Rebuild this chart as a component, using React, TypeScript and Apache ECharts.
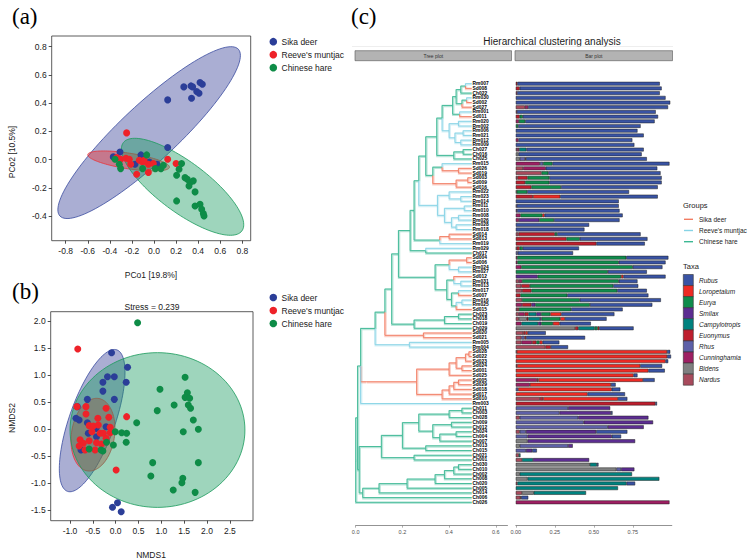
import React, { useEffect, useRef } from "react";
import * as echarts from "echarts";

const FONT = "Liberation Sans, Arial, Helvetica, sans-serif";
const SERIF = "Liberation Serif, Times New Roman, serif";

const GROUP_NAMES = ["Sika deer", "Reeve's muntjac", "Chinese hare"];
const POINT_COLORS = ["#2B3E98", "#EE2229", "#0E8C47"];
const ELLIPSE_FILLS = ["rgba(52,62,150,0.42)", "rgba(235,45,45,0.42)", "rgba(25,155,95,0.42)"];
const ELLIPSE_STROKES = ["#3A4BA0", "#E8333A", "#1B9A5C"];
const TREE_COLORS = ["#F27C62", "#86D3E5", "#3CB894"];

// ---------- (a) PCoA ----------
const PCOA_SIKA = [[0.27,0.515],[0.335,0.522],[0.35,0.515],[0.417,0.546],[0.438,0.534],[0.34,0.435],[0.387,0.482],[0.408,0.47],[0.124,0.423],[0.124,0.085],[-0.308,0.054],[-0.118,0.033],[-0.172,-0.033],[-0.042,-0.017],[0.027,-0.033],[-0.369,0.019]];
const PCOA_MUNTJAC = [[-0.248,0.189],[-0.338,0.014],[-0.302,0.002],[-0.254,0.009],[-0.224,0.002],[-0.211,-0.033],[-0.157,-0.104],[-0.133,-0.005],[-0.103,-0.017],[-0.051,-0.033],[-0.051,-0.092],[0.124,0.002],[0.2,-0.028],[-0.09,-0.005],[-0.006,-0.028]];
const PCOA_HARE = [[-0.353,0.002],[-0.314,-0.033],[-0.302,-0.064],[-0.066,0.033],[-0.103,-0.064],[0.012,-0.064],[0.063,-0.064],[0.085,-0.04],[0.25,-0.028],[0.227,-0.069],[0.205,-0.111],[0.281,-0.128],[0.302,-0.139],[0.326,-0.163],[0.356,-0.151],[0.317,-0.187],[0.372,-0.229],[0.205,-0.293],[0.372,-0.329],[0.417,-0.317],[0.432,-0.352],[0.447,-0.383],[0.453,-0.4]];
// ellipse: centre x, centre y, conjugate semi-axis u (x,y), v (x,y)
const PCOA_ELLIPSES = [[-0.044,0.191,0.808,0.591,0.175,-0.147],[-0.23,-0.01,0.37,-0.045,0.01,0.055],[0.259,-0.193,0.537,-0.313,0.136,0.142]];
const PCOA_X_TICKS = [-0.8,-0.6,-0.4,-0.2,0,0.2,0.4,0.6,0.8];
const PCOA_Y_TICKS = [-0.4,-0.2,0,0.2,0.4,0.6,0.8];

// ---------- (b) NMDS ----------
const NMDS_SIKA = [[-0.09,1.41],[0.26,1.14],[-0.18,0.967],[-0.03,0.967],[-0.28,0.863],[0.23,0.863],[-0.28,0.70],[-0.03,0.548],[-0.62,0.548],[-0.84,0.413],[-0.87,0.197],[-0.8,0.166],[-0.62,0.117],[-0.21,0.043],[-0.43,0.012],[-0.6,-0.08],[-0.42,-0.142],[-0.76,-0.388],[0.04,-1.362],[-0.07,-1.448],[0.12,-1.528]];
const NMDS_MUNTJAC = [[-0.83,1.479],[-0.85,0.413],[-0.65,0.413],[-0.21,0.382],[-0.65,0.277],[0.24,0.228],[-0.39,0.197],[-0.15,0.216],[-0.58,0.062],[-0.49,0.055],[-0.38,0.074],[-0.12,0.031],[-0.52,-0.05],[-0.34,-0.08],[-0.27,-0.08],[-0.12,-0.068],[-0.78,-0.2],[-0.71,-0.265],[-0.58,-0.216],[-0.42,-0.253],[-0.31,-0.277],[-0.21,-0.173],[-0.8,-0.314],[-0.67,-0.388],[-0.45,-0.388],[0.01,-0.758]];
const NMDS_HARE = [[0.48,1.965],[0.97,0.733],[1.52,0.955],[1.57,0.67],[1.52,0.585],[1.62,0.567],[1.59,0.444],[1.64,0.382],[1.28,0.444],[0.91,0.339],[1.70,0.166],[1.81,-0.006],[1.48,-0.05],[0.46,0.117],[0.81,-0.622],[1.81,-0.622],[0.77,-0.869],[1.47,-0.912],[1.45,-0.992],[1.26,-1.128],[1.74,-1.171],[-0.01,-0.05],[0.13,-0.07],[0.24,-0.08],[0.23,-0.246],[-0.2,-0.246],[-0.05,-0.296],[-0.32,-0.388],[-0.28,-0.407],[-0.58,-0.37]];
const NMDS_ELLIPSES = [[-0.515,0.155,0.487,1.315,0.529,0],[-0.497,-0.105,0.08,0.672,0.475,0],[0.915,-0.019,0,1.43,1.915,0]];
const NMDS_X_TICKS = [-1,-0.5,0,0.5,1,1.5,2,2.5];
const NMDS_Y_TICKS = [-1.5,-1,-0.5,0,0.5,1,1.5,2];

// ---------- (c) clustering ----------
const LEAF_LABELS = ["Rm007","Sd008","Ch022","Rm030","Sd002","Sd027","Rm001","Sd011","Rm020","Rm002","Rm006","Rm021","Rm012","Rm009","Ch027","Ch016","Ch025","Rm015","Sd026","Sd019","Sd003","Sd009","Sd016","Rm022","Rm023","Rm014","Rm011","Rm010","Rm008","Rm026","Rm028","Rm018","Sd014","Sd013","Rm019","Rm029","Ch017","Sd004","Sd006","Rm024","Rm027","Sd012","Rm031","Rm013","Rm017","Sd007","Rm016","Rm025","Sd015","Ch023","Ch018","Ch019","Ch029","Sd020","Sd021","Rm005","Rm004","Sd028","Sd022","Sd023","Sd024","Sd001","Sd025","Sd005","Sd029","Sd018","Sd017","Sd010","Rm003","Ch011","Ch003","Ch028","Ch009","Ch012","Ch024","Ch004","Ch007","Ch013","Ch015","Ch021","Ch001","Ch030","Ch010","Ch002","Ch008","Ch020","Ch005","Ch014","Ch006","Ch026"];
const LEAF_H = 0.497;
// sub-clusters, leaves 'x' in display order, node height after ')'
const CL_A = "((((x,x).47,x).45,((x,x).475,x).455).43,(x,x).445).415";
const CL_B = "((x,x).44,((x,x).46,(x,x).45).425).40";
const CL_C = "((x,x).46,x).42";
const CL_D = "(x,(x,x).44).37";
const CL_E = "((x,x).48,x).43";
const CL_G = "((x,(x,x).45).40,((x,x).465,((x,x).44,(x,x).43).41).38).35";
const CL_H = "((x,x).40,x).36";
const CL_I = "(x,x).30";
const CL_J = "(((x,x).475,(x,x).44).40,((x,(x,x).45).42,((x,x).44,((x,x).455,x).43).41).39).34";
const CL_K = "(((x,x).44,x).38,x).25";
const CL_L = "(x,x).29";
const CL_M = "(x,x).23";
const CL_S = "((((((x,x).485,x).47,(x,x).455).43,x).40,((((x,x).44,x).42,x).40,x).37).261";
const CL_V = "(((x,x).455,x).40,((x,x).41,((x,x).43,x).36).33).27";
const CL_W = "(((((x,x).44,x).42,x).38,x).34,x).22";
const T1 = `((${CL_A},${CL_B}).37,${CL_C}).347`;
const N1 = `(${T1},(${CL_D},${CL_E}).33).30`;
const N2 = `(${N1},${CL_G}).27`;
const N3 = `(${N2},${CL_H}).25`;
const N4 = `(${N3},${CL_I}).233`;
const N5 = `(${N4},${CL_J}).183`;
const N6 = `(${N5},${CL_K}).154`;
const N7 = `(${N6},${CL_L}).125`;
const N8 = `(${N7},${CL_M}).083`;
const U1 = `(${N8},${CL_S}).044`;
const UPPER = `(${U1},x).021`;
const V3 = `((${CL_V},(x,x).30).20,(x,x).25).11`;
const W2 = `((${CL_W},x).10,x).03`;
const TREE = `((${UPPER},(${V3},${W2}).015).008,x)0`;

const TAXA = ["Nardus","Bidens","Cunninghamia","Rhus","Euonymus","Campylotropis","Smilax","Eurya","Loropetalum","Rubus"];
const TAXA_COLORS = ["#A84A5C","#7F8081","#9E1F63","#5E60A8","#BE1E2D","#00827F","#5C2D91","#0F8C4C","#EE2A24","#3953A4"];
const LEGEND_TAXA = ["Rubus","Loropetalum","Eurya","Smilax","Campylotropis","Euonymus","Rhus","Cunninghamia","Bidens","Nardus"];

const NARDUS = [0,0,0,0,0,.058,0,0,0,0, 0,0,0,0,.008,0,0,0,.047,.165, .01,0,0,0,0,0,0,0,0,0, 0,0,.017,0,0,0,0,0,0,0, 0,0,.02,.035,.04,0,.04,0,.008,.02, .02,0,0,.047,.036,.036,.19,0,0,0, 0,0,0,0,0,0,0,.155,0,0, 0,.025,0,0,.025,0,0,0,0,.02, .04,0,0,0,0,.01,0,.04,.03,0];
const BIDENS = [0,0,0,0,0,0,0,0,0,0, 0,0,0,0,0,.017,.025,0,0,0, 0,0,0,0,0,0,0,0,0,0, 0,0,0,0,0,0,0,0,0,0, 0,0,0,0,0,0,0,0,0,0, .05,0,.38,0,0,0,0,0,0,0, 0,0,0,0,0,0,0,0,0,0, 0,0,0,0,0,0,.075,.025,0,0, 0,.475,.645,.025,.075,0,0,.075,0,0];
const CUNNINGHAMIA = [0,0,.008,0,0,.021,.007,0,.02,0, 0,0,.017,0,.013,0,0,.155,.145,0, 0,0,0,0,0,0,.005,0,.03,.02, 0,0,0,0,0,.005,0,.008,.01,.035, 0,0,.02,0,0,0,0,.04,0,.036, 0,.036,0,0,0,.068,0,0,0,0, 0,0,0,.135,.09,0,0,0,0,0, 0,0,0,0,0,0,0,0,0,0, 0,0,0,0,0,0,0,0,0,.985];
const RHUS = [0,0,0,0,0,0,0,0,0,0, 0,0,0,0,0,0,.035,.02,0,0, 0,0,0,0,0,0,0,0,0,0, 0,0,0,0,0,0,.012,0,0,0, 0,0,0,0,0,0,0,0,0,0, 0,0,0,0,.02,0,0,0,0,0, 0,0,0,0,0,.015,0,0,0,.335, .28,.375,.435,.59,.04,.075,0,.31,.065,0, 0,0,.03,0,0,0,0,0,0,0];
const EUONYMUS = [.01,.025,0,0,0,0,0,.025,0,0, 0,0,0,0,0,0,.005,0,0,0, .065,.06,.10,.005,.11,0,0,0,0,0, 0,0,.233,.325,.517,.02,0,0,0,0, 0,0,0,.055,.06,.03,0,.06,.012,.026, .01,0,.02,.015,.01,.028,.035,.005,0,0, .008,0,0,.01,0,0,0,.02,.895,0, 0,0,0,0,0,0,0,0,0,0, 0,0,0,0,0,0,0,0,.005,0];
const CAMPYLOTROPIS = [0,0,0,0,0,0,0,0,0,0, 0,0,0,0,.047,0,0,0,0,0, 0,0,0,0,0,0,0,0,0,0, 0,0,0,0,0,0,0,0,0,0, 0,0,0,0,0,0,0,0,0,.05, .075,.107,.105,0,0,0,0,0,0,0, 0,0,0,0,0,0,0,0,0,0, 0,0,0,0,0,0,0,0,0,.01, .07,.045,0,.72,.845,.70,.655,.335,0,0];
const SMILAX = [0,0,0,0,0,0,0,0,0,0, 0,0,0,0,0,0,0,0,0,0, 0,0,0,0,0,0,0,.008,0,.13, 0,0,0,0,0,0,0,0,0,0, 0,.14,0,0,0,0,0,.025,0,.03, .01,.02,0,0,0,0,0,0,0,0, 0,0,0,0,0,0,0,0,0,.27, .33,.45,.445,.23,.45,.54,.69,.03,.04,0, .36,0,.085,0,0,0,0,0,0,0];
const EURYA = [0,0,0,0,0,0,0,.02,.04,.015, 0,0,0,0,0,0,0,.06,0,.043, .14,.155,.19,.068,0,0,0,0,.14,.095, 0,0,.015,.085,0,.02,0,.70,.65,.715, .59,.535,.62,.535,.55,.30,.37,.35,.335,.06, .12,.075,.02,0,0,.02,0,0,0,0, 0,0,0,0,0,0,0,0,0,0, 0,0,0,0,0,0,0,0,0,0, 0,0,0,0,0,0,0,0,0,0];
const LOROPETALUM = [0,0,0,0,0,0,0,0,0,0, 0,0,0,0,0,0,0,0,0,0, 0,0,0,0,.175,0,0,0,.015,0, 0,0,0,0,0,0,0,0,0,0, 0,.015,0,0,0,0,0,0,0,.07, .03,.043,.01,.015,0,.02,0,.965,.97,.96, .79,.85,.755,.67,.52,.60,.46,.48,0,0, 0,0,0,0,0,0,0,0,0,0, 0,0,0,0,0,0,0,0,0,0];
const RUBUS = [.913,.91,.915,.96,.99,.897,.89,.867,.83,.785, .78,.82,.73,.76,.752,.79,.775,.75,.715,.72, .72,.72,.62,.653,.625,.66,.655,.657,.50,.42, .47,.44,.535,.434,.31,.36,.355,.27,.30,.19, .25,.27,.12,.16,.19,.52,.52,.40,.33,.34, .267,.20,.22,.115,.378,.107,.11,.02,.025,.017, .14,.105,.025,.075,.03,.055,.24,.06,.01,0, .01,0,0,0,.2,.06,0,0,.03,0, 0,.01,0,0,0,.055,0,0,.045,0];
const TAXA_VALUES = [NARDUS, BIDENS, CUNNINGHAMIA, RHUS, EUONYMUS, CAMPYLOTROPIS, SMILAX, EURYA, LOROPETALUM, RUBUS];

const TREE_X_TICKS = [0, 0.2, 0.4, 0.6];
const BAR_X_TICKS = [0, 0.25, 0.5, 0.75];

function groupOf(label: string) {
  return label.startsWith("Sd") ? 0 : label.startsWith("Rm") ? 1 : 2;
}

type Node = { h: number; y: number; kids: Node[]; g: number };

function parseTree(s: string): Node {
  let i = 0;
  let leaf = 0;
  const node = (): Node => {
    if (s[i] === "(") {
      i++;
      const kids = [node()];
      while (s[i] === ",") {
        i++;
        kids.push(node());
      }
      i++;
      const j = i;
      while (i < s.length && /[0-9.]/.test(s[i])) i++;
      const h = parseFloat(s.slice(j, i)) || 0;
      const gs = new Set(kids.map((k) => k.g));
      const g = gs.size === 1 ? kids[0].g : 3;
      return { h, y: (kids[0].y + kids[kids.length - 1].y) / 2, kids, g };
    }
    i++;
    leaf++;
    return { h: LEAF_H, y: leaf, kids: [], g: groupOf(LEAF_LABELS[leaf - 1]) };
  };
  return node();
}

function treeEdges(root: Node) {
  const out: number[][] = [];
  const walk = (n: Node) => {
    n.kids.forEach((k) => {
      out.push([n.h, n.y, k.h, k.y, k.g === 3 ? 2 : k.g]);
      walk(k);
    });
  };
  walk(root);
  return out;
}

function ellipseRender(_p: any, api: any) {
  const cx = api.value(0), cy = api.value(1), ux = api.value(2), uy = api.value(3), vx = api.value(4), vy = api.value(5), g = api.value(6);
  const pts: number[][] = [];
  for (let k = 0; k < 120; k++) {
    const t = (2 * Math.PI * k) / 120;
    pts.push(api.coord([cx + ux * Math.cos(t) + vx * Math.sin(t), cy + uy * Math.cos(t) + vy * Math.sin(t)]));
  }
  return { type: "polygon", shape: { points: pts }, style: { fill: ELLIPSE_FILLS[g], stroke: ELLIPSE_STROKES[g], lineWidth: 0.8 } };
}

function txt(text: string, x: number, y: number, size: number, opts: any = {}) {
  return {
    type: "text",
    x,
    y,
    rotation: opts.rotation || 0,
    style: {
      text,
      fill: opts.fill || "#1a1a1a",
      font: `${opts.italic ? "italic " : ""}${opts.bold ? "bold " : ""}${size}px ${opts.family || FONT}`,
      align: opts.align || "left",
      verticalAlign: "middle",
      textAlign: opts.align || "left",
      textVerticalAlign: "middle",
    },
  };
}

function scatterAxes(min: number, max: number, ticks: number[], grid: number, isX: boolean) {
  return {
    type: "value",
    gridIndex: grid,
    min,
    max,
    position: isX ? "bottom" : "left",
    axisLine: { show: false, onZero: false },
    axisTick: { show: true, customValues: ticks, length: 3, lineStyle: { color: "#222", width: 0.8 } },
    axisLabel: { customValues: ticks, formatter: (v: number) => v.toFixed(1), fontSize: 8.5, color: "#1a1a1a", fontFamily: FONT, margin: isX ? 6 : 5 },
    splitLine: { show: false },
  };
}

function buildOption() {
  const root = parseTree(TREE);
  const edges = treeEdges(root);
  const leaves = LEAF_LABELS.map((_, i) => [LEAF_H, i + 1, i]);

  const scatter = (data: number[][], g: number, ax: number) => ({
    type: "scatter",
    xAxisIndex: ax,
    yAxisIndex: ax,
    data,
    symbolSize: 7,
    itemStyle: { color: POINT_COLORS[g], opacity: 1 },
    z: 5,
    silent: true,
  });
  const ellipses = (data: number[][], ax: number) => ({
    type: "custom",
    xAxisIndex: ax,
    yAxisIndex: ax,
    data: data.map((e, i) => [...e, i]),
    encode: { x: 0, y: 1 },
    renderItem: ellipseRender,
    z: 2,
    silent: true,
  });

  const edgeSeries = (shadow: boolean) => ({
    type: "custom",
    xAxisIndex: 2,
    yAxisIndex: 2,
    data: edges,
    encode: { x: [0, 2], y: [1, 3] },
    silent: true,
    z: shadow ? 2 : 3,
    renderItem: (_p: any, api: any) => {
      const a = api.coord([api.value(0), api.value(1)]);
      const b = api.coord([api.value(0), api.value(3)]);
      const c = api.coord([api.value(2), api.value(3)]);
      const col = TREE_COLORS[api.value(4)];
      return {
        type: "polyline",
        shape: { points: shadow ? [[a[0] + 0.6, a[1] + 0.6], [b[0] + 0.6, b[1] + 0.6], [c[0], c[1] + 0.6]] : [a, b, c] },
        style: { stroke: col, lineWidth: shadow ? 2.4 : 0.9, fill: null, opacity: shadow ? 0.35 : 1 },
      };
    },
  });

  const labelSeries = {
    type: "custom",
    xAxisIndex: 2,
    yAxisIndex: 2,
    data: leaves,
    encode: { x: 0, y: 1 },
    silent: true,
    z: 4,
    renderItem: (_p: any, api: any) => {
      const p = api.coord([api.value(0), api.value(1)]);
      return {
        type: "text",
        x: p[0] + 0.8,
        y: p[1],
        style: { text: LEAF_LABELS[api.value(2)], fill: "#000", font: `bold 4.9px ${FONT}`, align: "left", verticalAlign: "middle" },
      };
    },
  };

  const barSeries = TAXA.map((name, ti) => ({
    type: "bar",
    name,
    stack: "taxa",
    xAxisIndex: 3,
    yAxisIndex: 3,
    barCategoryGap: "20%",
    data: TAXA_VALUES[ti].map((v) => (v > 0 ? v : null)),
    itemStyle: { color: TAXA_COLORS[ti], borderColor: "#1e1e1e", borderWidth: 0.5 },
    silent: true,
  }));

  const g: any[] = [];
  // panel letters
  g.push(txt("(a)", 12, 16, 23, { family: SERIF, fill: "#000" }));
  g.push(txt("(b)", 12, 291, 23, { family: SERIF, fill: "#000" }));
  g.push(txt("(c)", 351, 16, 23, { family: SERIF, fill: "#000" }));
  // legends (a) (b)
  [41.7, 297.5].forEach((y0) => {
    GROUP_NAMES.forEach((name, i) => {
      g.push({ type: "circle", shape: { cx: 273.3, cy: y0 + i * 13, r: 3.8 }, style: { fill: POINT_COLORS[i] } });
      g.push(txt(name, 281.5, y0 + i * 13, 8.5));
    });
  });
  // axis titles
  g.push(txt("PCo1 [19.8%]", 151, 274.5, 8.5, { align: "center" }));
  g.push(txt("PCo2 [10.5%]", 12, 152, 8.5, { align: "center", rotation: Math.PI / 2 }));
  g.push(txt("Stress = 0.239", 152, 306.5, 8.5, { align: "center" }));
  g.push(txt("NMDS1", 151, 555, 8.5, { align: "center" }));
  g.push(txt("NMDS2", 12, 418, 8.5, { align: "center", rotation: Math.PI / 2 }));
  // (c) header
  g.push(txt("Hierarchical clustering analysis", 552, 41.5, 10, { align: "center" }));
  g.push({ type: "line", shape: { x1: 352, y1: 46.5, x2: 673, y2: 46.5 }, style: { stroke: "#e3e3e3", lineWidth: 0.6 } });
  g.push({ type: "rect", shape: { x: 355, y: 50.7, width: 156.5, height: 10 }, style: { fill: "#B3B3B3", stroke: "#555", lineWidth: 0.6 } });
  g.push({ type: "rect", shape: { x: 515, y: 50.7, width: 157.5, height: 10 }, style: { fill: "#B3B3B3", stroke: "#555", lineWidth: 0.6 } });
  g.push(txt("Tree plot", 433.3, 55.8, 5, { align: "center", fill: "#333" }));
  g.push(txt("Bar plot", 593.8, 55.8, 5, { align: "center", fill: "#333" }));
  // groups legend
  g.push(txt("Groups", 683, 205, 7.5, { fill: "#222" }));
  [0, 1, 2].forEach((i) => {
    const y = 219.3 + i * 11.2;
    g.push({ type: "line", shape: { x1: 684, y1: y, x2: 693, y2: y }, style: { stroke: TREE_COLORS[i], lineWidth: 1.4 } });
    g.push(txt(GROUP_NAMES[i], 699, y, 6.5, { fill: "#222" }));
  });
  // taxa legend
  g.push(txt("Taxa", 683, 266, 7.5, { fill: "#222" }));
  LEGEND_TAXA.forEach((name, i) => {
    const y = 274.5 + i * 11.07;
    g.push({ type: "rect", shape: { x: 683.3, y, width: 10, height: 11.07 }, style: { fill: TAXA_COLORS[TAXA.indexOf(name)], stroke: "#333", lineWidth: 0.6 } });
    g.push(txt(name, 699, y + 5.5, 6.5, { italic: true, fill: "#222" }));
  });

  const smallAxis = (max: number, ticks: number[], grid: number, digits: number) => ({
    type: "value",
    gridIndex: grid,
    min: 0,
    max,
    offset: 21,
    position: "bottom",
    axisLine: { show: true, onZero: false, lineStyle: { color: "#777", width: 0.8 } },
    axisTick: { show: true, customValues: ticks, length: 2, lineStyle: { color: "#777", width: 0.6 } },
    axisLabel: { customValues: ticks, formatter: (v: number) => v.toFixed(digits), fontSize: 5.5, color: "#4d4d4d", fontFamily: FONT, margin: 3 },
    splitLine: { show: false },
  });

  return {
    animation: false,
    backgroundColor: "#fff",
    textStyle: { fontFamily: FONT },
    grid: [
      { left: 51.7, top: 36, width: 199, height: 204.7, show: true, borderColor: "#333", borderWidth: 0.8, backgroundColor: "transparent" },
      { left: 50.7, top: 311.7, width: 202.3, height: 209, show: true, borderColor: "#333", borderWidth: 0.8, backgroundColor: "transparent" },
      { left: 355.7, top: 81.35, width: 151.8, height: 423.3 },
      { left: 515.8, top: 81.35, width: 156, height: 423.3 },
    ],
    xAxis: [
      scatterAxes(-0.9266, 0.876, PCOA_X_TICKS, 0, true),
      scatterAxes(-1.423, 3.007, NMDS_X_TICKS, 1, true),
      smallAxis(0.65, TREE_X_TICKS, 2, 1),
      smallAxis(1, BAR_X_TICKS, 3, 2),
    ],
    yAxis: [
      scatterAxes(-0.575, 0.8757, PCOA_Y_TICKS, 0, false),
      scatterAxes(-1.695, 2.168, NMDS_Y_TICKS, 1, false),
      { type: "value", gridIndex: 2, min: 0.5, max: 90.5, inverse: true, show: false },
      { type: "category", gridIndex: 3, data: LEAF_LABELS, inverse: true, show: false },
    ],
    graphic: { elements: g },
    series: [
      ellipses(PCOA_ELLIPSES, 0),
      scatter(PCOA_SIKA, 0, 0),
      scatter(PCOA_MUNTJAC, 1, 0),
      scatter(PCOA_HARE, 2, 0),
      ellipses(NMDS_ELLIPSES, 1),
      scatter(NMDS_SIKA, 0, 1),
      scatter(NMDS_MUNTJAC, 1, 1),
      scatter(NMDS_HARE, 2, 1),
      edgeSeries(true),
      edgeSeries(false),
      labelSeries,
      ...barSeries,
    ],
  };
}

export default function App() {
  const ref = useRef<HTMLDivElement>(null);
  useEffect(() => {
    if (!ref.current) return;
    const chart = echarts.init(ref.current, undefined, { renderer: "svg" });
    chart.setOption(buildOption() as any);
    return () => chart.dispose();
  }, []);
  return <div ref={ref} style={{ position: "fixed", left: 0, top: 0, width: 756, height: 559, background: "#fff" }} />;
}
